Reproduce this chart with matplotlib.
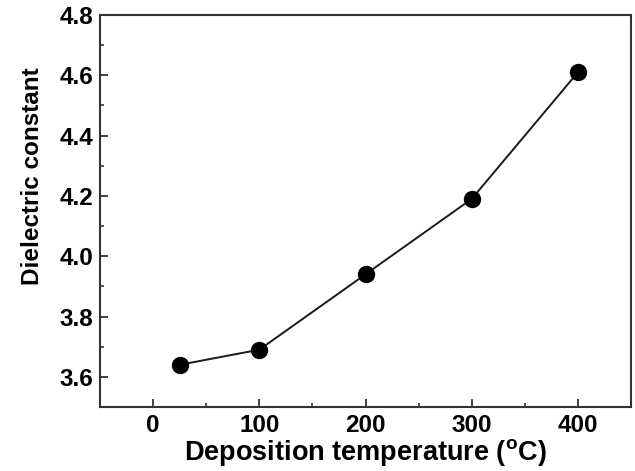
import matplotlib
matplotlib.use("Agg")
import matplotlib.pyplot as plt
from matplotlib.ticker import MultipleLocator, FormatStrFormatter

plt.rcParams["font.family"] = "Liberation Sans"
plt.rcParams["font.weight"] = "bold"
plt.rcParams["mathtext.fontset"] = "custom"
plt.rcParams["mathtext.bf"] = "Liberation Sans:bold"
plt.rcParams["mathtext.rm"] = "Liberation Sans:bold"

temperature = [25, 100, 200, 300, 400]
dielectric = [3.64, 3.69, 3.94, 4.19, 4.61]

fig = plt.figure(figsize=(6.35, 4.71), dpi=100)
ax = fig.add_axes([100 / 635, 1 - 407 / 471, 531 / 635, 392 / 471])

ax.plot(temperature, dielectric, color="#1a1a1a", linewidth=1.4,
        marker="o", markersize=11.5, markerfacecolor="black", markeredgecolor="black")

ax.set_xlim(-50, 450)
ax.set_ylim(3.5, 4.8)
ax.xaxis.set_major_locator(MultipleLocator(100))
ax.xaxis.set_minor_locator(MultipleLocator(50))
ax.yaxis.set_major_locator(MultipleLocator(0.2))
ax.yaxis.set_minor_locator(MultipleLocator(0.1))
ax.yaxis.set_major_formatter(FormatStrFormatter("%.1f"))

ax.tick_params(which="both", direction="in", top=False, right=False, color="#333333")
ax.tick_params(which="major", length=6, width=1.3, labelsize=17.5, pad=5)
ax.tick_params(which="minor", length=3, width=1.2)
for s in ax.spines.values():
    s.set_linewidth(1.5)
    s.set_color("#333333")

ax.set_xlabel(r"Deposition temperature ($^{\mathrm{o}}$C)", fontsize=19.5, fontweight="bold", labelpad=0)
ax.set_ylabel("Dielectric constant", fontsize=17.5, fontweight="bold")
# label sits a bit above the middle of the axis in the original
ax.yaxis.set_label_coords(-0.105, 0.589)

fig.savefig("out.png", dpi=100)
